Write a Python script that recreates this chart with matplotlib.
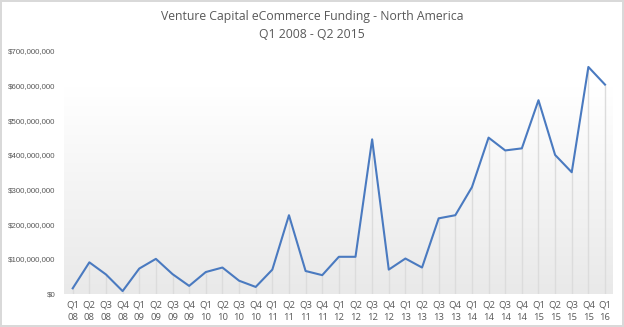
import numpy as np
import matplotlib.pyplot as plt
from matplotlib.colors import LinearSegmentedColormap
from matplotlib.ticker import FuncFormatter

# quarterly funding, Q1 2008 .. Q1 2016
quarters = ["Q1", "Q2", "Q3", "Q4"]
years = ["08", "09", "10", "11", "12", "13", "14", "15", "16"]
labels = [q + "\n" + y for y in years for q in quarters][:33]

funding = [
    15e6, 90e6, 55e6, 7e6,
    72e6, 100e6, 56e6, 22e6,
    62e6, 75e6, 37e6, 19e6,
    69e6, 226e6, 65e6, 53e6,
    106e6, 106e6, 445e6, 69e6,
    101e6, 75e6, 217e6, 226e6,
    307e6, 450e6, 413e6, 419e6,
    558e6, 400e6, 350e6, 654e6,
    603e6,
]

TEXT = "#595959"


def money(v, pos):
    return "${:,.0f}".format(v)


def main():
    plt.rcParams["font.family"] = ["Open Sans", "DejaVu Sans"]
    fig = plt.figure(figsize=(6.24, 3.27), dpi=100)
    fig.patch.set_edgecolor("#d9d9d9")
    fig.patch.set_linewidth(1.5)

    ax = fig.add_axes([0.1032, 0.1024, 0.8797, 0.7416])
    x = np.arange(len(funding))
    ax.set_xlim(-0.5, len(funding) - 0.5)
    ax.set_ylim(0, 700e6)

    # plot-area gradient: white near the top, light grey at the base
    grad = np.linspace(0, 1, 256).reshape(-1, 1)
    cmap = LinearSegmentedColormap.from_list(
        "bg", [(0, "#e9e9e9"), (0.85, "#ffffff"), (1, "#ffffff")])
    ax.imshow(grad, cmap=cmap, origin="lower", aspect="auto",
              extent=[-0.5, len(funding) - 0.5, 0, 700e6], zorder=0)

    ax.vlines(x, 0, funding, colors="#dcdcdc", linewidth=1.0, zorder=1)
    ax.plot(x, funding, color="#4a7ac0", linewidth=1.5, zorder=2)

    ax.set_xticks(x)
    ax.set_xticklabels(labels, fontsize=6.8, color=TEXT, linespacing=1.45)
    ax.set_yticks(np.arange(0, 700e6 + 1, 100e6))
    ax.yaxis.set_major_formatter(FuncFormatter(money))
    ax.tick_params(axis="y", labelsize=5.7, labelcolor=TEXT, length=0, pad=6.5)
    for t in ax.get_yticklabels():
        t.set_family(["Liberation Sans", "DejaVu Sans"])
    ax.tick_params(axis="x", length=0, pad=5)
    for s in ax.spines.values():
        s.set_visible(False)

    fig.text(0.5, 0.922, "Venture Capital eCommerce Funding - North America\nQ1 2008 - Q2 2015",
             ha="center", va="center", fontsize=8.8, color=TEXT, linespacing=1.45)

    fig.savefig("out.png", dpi=100, edgecolor=fig.get_edgecolor())


if __name__ == "__main__":
    main()
